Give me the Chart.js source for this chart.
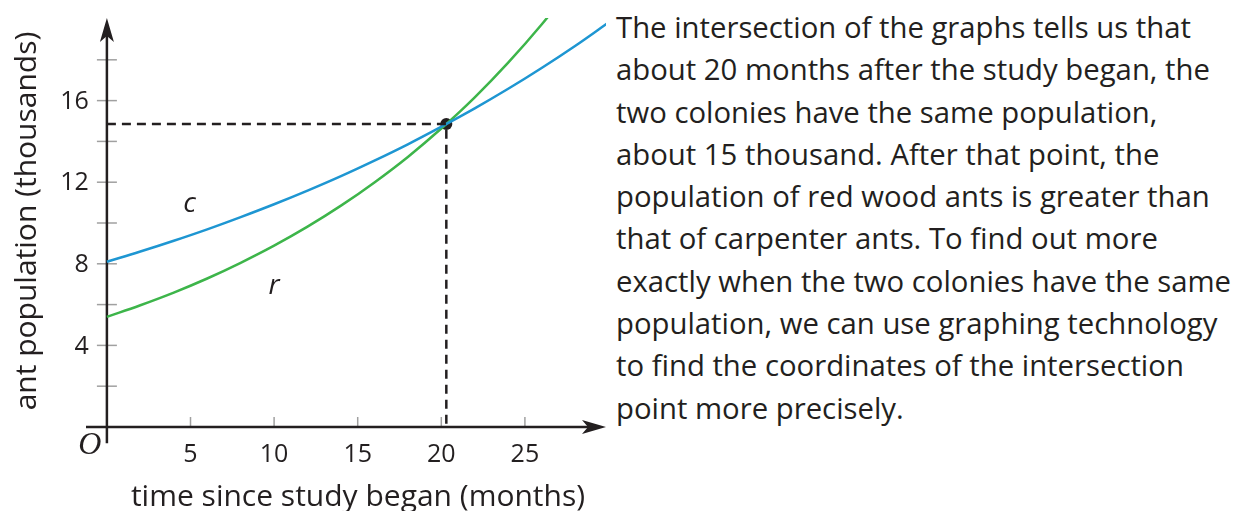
<!DOCTYPE html>
<html>
<head>
<meta charset="utf-8">
<script src="https://cdn.jsdelivr.net/npm/chart.js@4/dist/chart.umd.min.js"></script>
<style>
    html, body { margin: 0; padding: 0; background: #fff; }
    body { width: 1235px; height: 511px; position: relative; overflow: hidden; font-family: "Open Sans", sans-serif; color: #231f20; }
    #antChart { position: absolute; left: 0; top: 0; }
    #note { position: absolute; left: 616px; top: 6px; font-size: 29.3px; line-height: 42.3px; white-space: nowrap; }
</style>
</head>
<body>
<canvas id="antChart" width="612" height="511"></canvas>
<div id="note">
The intersection of the graphs tells us that<br>
about 20 months after the study began, the<br>
two colonies have the same population,<br>
about 15 thousand. After that point, the<br>
population of red wood ants is greater than<br>
that of carpenter ants. To find out more<br>
exactly when the two colonies have the same<br>
population, we can use graphing technology<br>
to find the coordinates of the intersection<br>
point more precisely.
</div>
<script>
// ------------------------------------------------------------------
//  Données (milliers de fourmis)
// ------------------------------------------------------------------
const months = [0, 2, 4, 6, 8, 10, 12, 14, 16, 18, 20, 22, 24, 26, 28, 30];
const carpenter = [8.10, 8.60, 9.13, 9.69, 10.29, 10.92, 11.59, 12.30, 13.06, 13.86, 14.72, 15.62, 16.58, 17.60, 18.68, 19.83]; // c
const redwood = [5.40, 5.97, 6.59, 7.28, 8.05, 8.89, 9.82, 10.85, 11.99, 13.24, 14.63, 16.16, 17.86, 19.73, 21.79];          // r

const intersectX = 20.3;
const intersectY = 14.85;

const xTicks = [5, 10, 15, 20, 25];
const yTicks = [4, 8, 12, 16];
const yMinorTicks = [2, 6, 10, 14, 18];

const ink = "#231f20";

// Paires {x, y} pour l'axe linéaire
function toPoints(xs, ys) {
    return ys.map((v, i) => ({ x: xs[i], y: v }));
}

// ------------------------------------------------------------------
//  Axes dessinés à la main (flèches, graduations, libellés)
// ------------------------------------------------------------------
const axesPlugin = {
    id: "axesPlugin",
    beforeDatasetsDraw(chart) {
        const ctx = chart.ctx;
        const xs = chart.scales.x;
        const ys = chart.scales.y;
        const area = chart.chartArea;
        const x0 = xs.getPixelForValue(0);
        const y0 = ys.getPixelForValue(0);

        ctx.save();

        // graduations grises
        ctx.strokeStyle = "#a0a0a0";
        ctx.lineWidth = 1.5;
        yTicks.concat(yMinorTicks).forEach(v => {
            const py = ys.getPixelForValue(v);
            ctx.beginPath();
            ctx.moveTo(x0 - 10, py);
            ctx.lineTo(x0 + 10, py);
            ctx.stroke();
        });
        xTicks.forEach(v => {
            const px = xs.getPixelForValue(v);
            ctx.beginPath();
            ctx.moveTo(px, y0 - 10);
            ctx.lineTo(px, y0);
            ctx.stroke();
        });

        // axes
        ctx.strokeStyle = ink;
        ctx.fillStyle = ink;
        ctx.lineWidth = 2.5;
        ctx.beginPath();
        ctx.moveTo(x0, area.bottom);
        ctx.lineTo(x0, area.top + 14);
        ctx.moveTo(area.left, y0);
        ctx.lineTo(area.right - 14, y0);
        ctx.stroke();

        // flèche verticale
        ctx.beginPath();
        ctx.moveTo(x0, area.top);
        ctx.lineTo(x0 + 7, area.top + 24);
        ctx.lineTo(x0, area.top + 18);
        ctx.lineTo(x0 - 7, area.top + 24);
        ctx.closePath();
        ctx.fill();

        // flèche horizontale
        ctx.beginPath();
        ctx.moveTo(area.right, y0);
        ctx.lineTo(area.right - 24, y0 - 7);
        ctx.lineTo(area.right - 18, y0);
        ctx.lineTo(area.right - 24, y0 + 7);
        ctx.closePath();
        ctx.fill();

        // libellés des graduations
        ctx.font = "25px 'Open Sans'";
        ctx.textAlign = "right";
        ctx.textBaseline = "middle";
        yTicks.forEach(v => {
            ctx.fillText(String(v), x0 - 18, ys.getPixelForValue(v) + 1);
        });
        ctx.textAlign = "center";
        xTicks.forEach(v => {
            ctx.fillText(String(v), xs.getPixelForValue(v), y0 + 28);
        });

        // origine
        ctx.font = "italic 32px 'Liberation Serif'";
        ctx.textAlign = "center";
        ctx.fillText("O", x0 - 17, y0 + 19);

        // titres des axes
        ctx.font = "30px 'Open Sans'";
        ctx.textBaseline = "alphabetic";
        ctx.fillText("time since study began (months)", 358, 506);
        ctx.save();
        ctx.translate(36, 221);
        ctx.rotate(-Math.PI / 2);
        ctx.fillText("ant population (thousands)", 0, 0);
        ctx.restore();

        // noms des courbes
        ctx.font = "italic 28px 'Open Sans'";
        ctx.textBaseline = "middle";
        ctx.fillText("c", xs.getPixelForValue(4.95), ys.getPixelForValue(10.95));
        ctx.fillText("r", xs.getPixelForValue(10.0), ys.getPixelForValue(6.9));

        ctx.restore();
    }
};

// ------------------------------------------------------------------
//  Graphique
// ------------------------------------------------------------------
const ctx = document.getElementById("antChart").getContext("2d");

new Chart(ctx, {
    type: "line",
    data: {
        datasets: [
            {
                label: "guides",
                data: [{ x: 0, y: intersectY }, { x: intersectX, y: intersectY }, { x: intersectX, y: 0 }],
                borderColor: ink,
                borderWidth: 2.5,
                borderDash: [9, 6],
                pointRadius: 0,
                tension: 0
            },
            {
                label: "c",
                data: toPoints(months, carpenter),
                borderColor: "#1e96d2",
                borderWidth: 2.5,
                pointRadius: 0,
                tension: 0.4
            },
            {
                label: "r",
                data: toPoints(months, redwood),
                borderColor: "#3db54a",
                borderWidth: 2.5,
                pointRadius: 0,
                tension: 0.4
            },
            {
                label: "intersection",
                data: [{ x: intersectX, y: intersectY }],
                showLine: false,
                pointRadius: 6,
                pointBackgroundColor: ink,
                pointBorderColor: ink,
                pointBorderWidth: 0
            }
        ]
    },
    options: {
        responsive: false,
        animation: false,
        layout: { padding: { left: 86, right: 3.5, top: 18, bottom: 67.7 } },
        plugins: { legend: { display: false }, tooltip: { enabled: false } },
        scales: {
            x: { type: "linear", min: -1.25, max: 29.85, display: false },
            y: { type: "linear", min: -0.8, max: 20.05, display: false }
        }
    },
    plugins: [axesPlugin]
});
</script>
</body>
</html>
